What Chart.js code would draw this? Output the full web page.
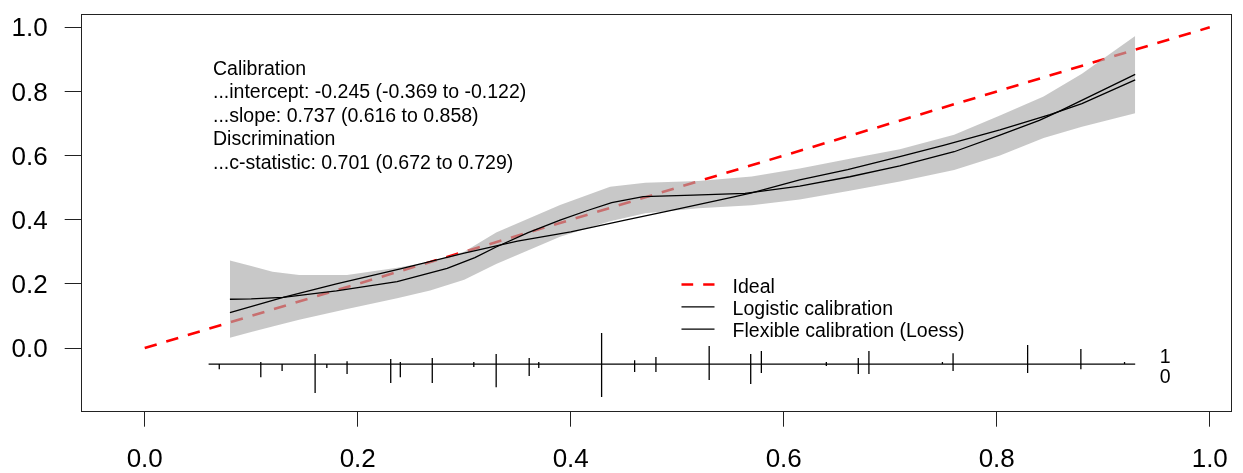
<!DOCTYPE html>
<html>
<head>
<meta charset="utf-8">
<script src="https://cdn.jsdelivr.net/npm/chart.js@4.4.1/dist/chart.umd.min.js"></script>
<style>
  html, body { margin: 0; padding: 0; background: #fff; }
</style>
</head>
<body>
<canvas id="cal" width="1243" height="473"></canvas>
<script>
// axis ticks
const xTicks = [0, 0.2, 0.4, 0.6, 0.8, 1.0];
const yTicks = [0, 0.2, 0.4, 0.6, 0.8, 1.0];

// ideal diagonal
const idealX = [0, 1];
const idealY = [0, 1];

// logistic calibration curve
const logisticX = [0.08, 0.13, 0.18, 0.24, 0.30, 0.35, 0.40, 0.45, 0.50, 0.55, 0.57, 0.615, 0.66, 0.709, 0.75, 0.803, 0.85, 0.88, 0.93];
const logisticY = [0.110, 0.158, 0.200, 0.247, 0.296, 0.333, 0.362, 0.398, 0.433, 0.469, 0.484, 0.524, 0.556, 0.597, 0.632, 0.680, 0.728, 0.762, 0.836];

// flexible (loess) calibration curve
const loessX = [0.08, 0.10, 0.13, 0.18, 0.237, 0.284, 0.31, 0.33, 0.36, 0.39, 0.415, 0.4385, 0.468, 0.515, 0.5637, 0.615, 0.662, 0.709, 0.76, 0.803, 0.84, 0.86, 0.93];
const loessY = [0.152, 0.153, 0.158, 0.178, 0.207, 0.248, 0.282, 0.315, 0.360, 0.399, 0.428, 0.453, 0.472, 0.477, 0.482, 0.505, 0.534, 0.568, 0.612, 0.664, 0.710, 0.740, 0.853];

// loess confidence band
const bandX = [0.08, 0.10, 0.12, 0.145, 0.19, 0.237, 0.268, 0.30, 0.33, 0.39, 0.437, 0.47, 0.52, 0.57, 0.615, 0.662, 0.709, 0.76, 0.803, 0.844, 0.88, 0.93];
const bandUpper = [0.273, 0.256, 0.238, 0.228, 0.228, 0.250, 0.269, 0.300, 0.360, 0.446, 0.503, 0.515, 0.521, 0.535, 0.560, 0.590, 0.620, 0.665, 0.725, 0.784, 0.855, 0.973];
const bandLower = [0.032, 0.050, 0.067, 0.088, 0.122, 0.155, 0.179, 0.213, 0.262, 0.347, 0.395, 0.420, 0.436, 0.445, 0.463, 0.490, 0.519, 0.555, 0.600, 0.655, 0.690, 0.732];

// spike histogram (events up, non-events down)
const spikeX    = [0.070, 0.109, 0.129, 0.160, 0.171, 0.190, 0.231, 0.240, 0.270, 0.309, 0.330, 0.361, 0.370, 0.429, 0.460, 0.480, 0.530, 0.569, 0.579, 0.640, 0.670, 0.680, 0.749, 0.759, 0.829, 0.879, 0.920];
const spikeUp   = [0.000, 0.006, 0.000, 0.031, 0.000, 0.009, 0.016, 0.006, 0.019, 0.006, 0.031, 0.019, 0.006, 0.097, 0.012, 0.022, 0.056, 0.031, 0.041, 0.006, 0.019, 0.041, 0.006, 0.034, 0.059, 0.047, 0.006];
const spikeDown = [0.016, 0.041, 0.022, 0.090, 0.012, 0.031, 0.059, 0.041, 0.059, 0.009, 0.072, 0.037, 0.012, 0.103, 0.025, 0.025, 0.050, 0.062, 0.028, 0.006, 0.031, 0.031, 0.000, 0.022, 0.028, 0.016, 0.000];
const spikeBase = -0.05;
const spikeRange = [0.06, 0.93];

const statsLines = [
  'Calibration',
  '...intercept: -0.245 (-0.369 to -0.122)',
  '...slope: 0.737 (0.616 to 0.858)',
  'Discrimination',
  '...c-statistic: 0.701 (0.672 to 0.729)'
];
const legendLabels = ['Ideal', 'Logistic calibration', 'Flexible calibration (Loess)'];
const spikeLabels = ['1', '0'];

const FONT = '"Liberation Sans", Arial, sans-serif';

const xy = (xs, ys) => xs.map((x, i) => ({ x, y: ys[i] }));

const spikePts = [];
spikeX.forEach((x, i) => {
  spikePts.push({ x, y: spikeBase - spikeDown[i] });
  spikePts.push({ x, y: spikeBase + spikeUp[i] });
  spikePts.push({ x, y: null });
});

const overlay = {
  id: 'overlay',
  afterDraw(chart) {
    const { ctx, chartArea: a, scales: { x, y } } = chart;
    ctx.save();
    // box
    ctx.strokeStyle = '#222';
    ctx.lineWidth = 1;
    ctx.strokeRect(Math.round(a.left) + 0.5, Math.round(a.top) + 0.5,
      Math.round(a.right - a.left) - 1, Math.round(a.bottom - a.top));

    ctx.fillStyle = '#000';
    ctx.font = '19.5px ' + FONT;
    ctx.textBaseline = 'alphabetic';
    ctx.textAlign = 'left';

    // stats text
    const sx = x.getPixelForValue(0.0641);
    const sy = y.getPixelForValue(0.851);
    statsLines.forEach((t, i) => ctx.fillText(t, sx, sy + i * 23.4));

    // legend
    const lx0 = x.getPixelForValue(0.504), lx1 = x.getPixelForValue(0.535);
    const tx = x.getPixelForValue(0.552);
    const ly = y.getPixelForValue(0.173);
    legendLabels.forEach((t, i) => {
      const base = ly + i * 22.3;
      ctx.fillStyle = '#000';
      ctx.fillText(t, tx, base);
      ctx.beginPath();
      ctx.lineWidth = i === 0 ? 2.6 : 1.3;
      ctx.strokeStyle = i === 0 ? '#ff0000' : '#000';
      ctx.setLineDash(i === 0 ? [11.7, 10] : []);
      ctx.moveTo(lx0, base - 8);
      ctx.lineTo(lx1, base - 8);
      ctx.stroke();
    });
    ctx.setLineDash([]);

    // spike labels
    const px = x.getPixelForValue(0.953);
    ctx.fillStyle = '#000';
    ctx.fillText(spikeLabels[0], px, y.getPixelForValue(-0.048));
    ctx.fillText(spikeLabels[1], px, y.getPixelForValue(-0.110));
    ctx.restore();
  }
};

const noPad = s => { s.paddingTop = 0; s.paddingBottom = 0; s.paddingLeft = 0; s.paddingRight = 0; };

new Chart(document.getElementById('cal'), {
  type: 'line',
  data: {
    datasets: [
      {
        label: 'Ideal', data: xy(idealX, idealY),
        borderColor: '#ff0000', borderWidth: 2.6, borderDash: [12.5, 10],
        pointRadius: 0, order: 6
      },
      {
        label: 'band upper', data: xy(bandX, bandUpper),
        borderWidth: 0, borderColor: 'rgba(0,0,0,0)', pointRadius: 0,
        backgroundColor: 'rgba(171,171,171,0.65)', fill: '+1', order: 5
      },
      {
        label: 'band lower', data: xy(bandX, bandLower),
        borderWidth: 0, borderColor: 'rgba(0,0,0,0)', pointRadius: 0, fill: false, order: 4
      },
      {
        label: 'Logistic calibration', data: xy(logisticX, logisticY),
        borderColor: '#000', borderWidth: 1.3, pointRadius: 0, order: 2
      },
      {
        label: 'Flexible calibration (Loess)', data: xy(loessX, loessY),
        borderColor: '#000', borderWidth: 1.3, pointRadius: 0, order: 1
      },
      {
        label: 'spike base', data: [{ x: spikeRange[0], y: spikeBase }, { x: spikeRange[1], y: spikeBase }],
        borderColor: '#000', borderWidth: 1.3, pointRadius: 0, order: 0
      },
      {
        label: 'spikes', data: spikePts, spanGaps: false,
        borderColor: '#000', borderWidth: 1.3, pointRadius: 0, order: 0
      }
    ]
  },
  options: {
    responsive: false,
    animation: false,
    devicePixelRatio: 1,
    layout: { padding: { top: 14, right: 11, left: 0, bottom: 0 } },
    elements: { line: { tension: 0 } },
    plugins: { legend: { display: false }, tooltip: { enabled: false } },
    scales: {
      x: {
        type: 'linear', min: -0.0601, max: 1.0209,
        afterBuildTicks: s => { s.ticks = xTicks.map(v => ({ value: v })); },
        afterFit: s => { s.height = 62.3; noPad(s); },
        grid: { drawOnChartArea: false, drawTicks: true, tickLength: 16, color: '#222', lineWidth: 1 },
        border: { display: false },
        ticks: { font: { family: FONT, size: 26 }, color: '#000', padding: 18, maxRotation: 0,
          callback: v => v.toFixed(1) }
      },
      y: {
        type: 'linear', min: -0.1955, max: 1.0415,
        afterBuildTicks: s => { s.ticks = yTicks.map(v => ({ value: v })); },
        afterFit: s => { s.width = 80.7; noPad(s); },
        grid: { drawOnChartArea: false, drawTicks: true, tickLength: 16, color: '#222', lineWidth: 1 },
        border: { display: false },
        ticks: { font: { family: FONT, size: 26 }, color: '#000', padding: 17, labelOffset: 2,
          callback: v => v.toFixed(1) }
      }
    }
  },
  plugins: [overlay]
});
</script>
</body>
</html>
